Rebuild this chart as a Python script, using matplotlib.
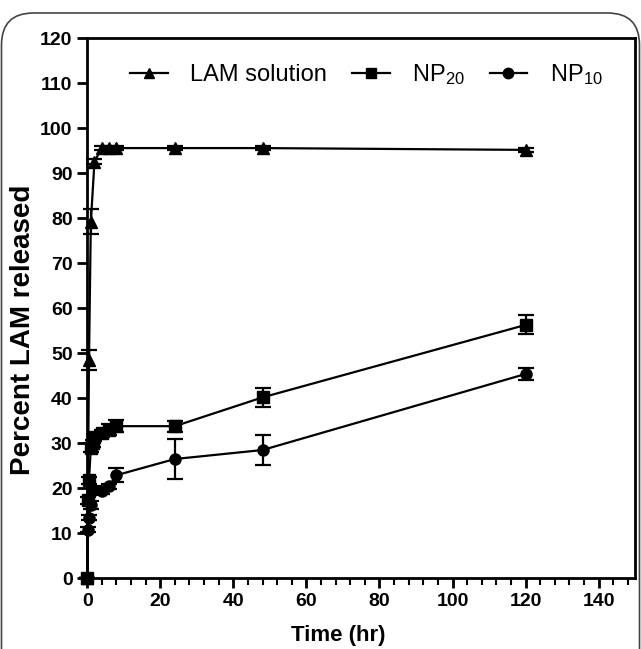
import matplotlib.pyplot as plt
from matplotlib.lines import Line2D
from matplotlib.patches import FancyBboxPatch
from matplotlib.ticker import MultipleLocator

plt.rcParams['font.family'] = ['Liberation Sans', 'DejaVu Sans']
plt.rcParams['mathtext.fontset'] = 'custom'
plt.rcParams['mathtext.rm'] = 'Liberation Sans'
plt.rcParams['mathtext.it'] = 'Liberation Sans'

# LAM solution
lam_t = [0, 0.5, 1, 2, 4, 6, 8, 24, 48, 120]
lam_y = [0, 48.5, 79.2, 92.6, 95.6, 95.6, 95.6, 95.6, 95.6, 95.2]
lam_err = [0, 2.3, 2.8, 0.6, 0.4, 0.4, 0.4, 0.4, 0.4, 0.5]

# NP20
np20_t = [0, 0.25, 0.5, 1, 1.5, 2, 4, 6, 8, 24, 48, 120]
np20_y = [0, 17.3, 21.8, 29.0, 30.0, 31.3, 32.2, 33.0, 33.8, 33.8, 40.2, 56.3]
np20_err = [0, 0.8, 0.8, 1.0, 0.8, 0.8, 0.8, 1.2, 1.4, 1.2, 2.1, 2.1]

# NP10
np10_t = [0, 0.25, 0.5, 1, 2, 4, 6, 8, 24, 48, 120]
np10_y = [0, 10.8, 13.5, 16.3, 19.6, 19.3, 20.4, 22.9, 26.5, 28.5, 45.4]
np10_err = [0, 0.5, 0.6, 0.8, 0.8, 0.6, 0.6, 1.6, 4.5, 3.3, 1.3]

labels = ['LAM solution', 'NP$_{20}$', 'NP$_{10}$']
markers = ['^', 's', 'o']

fig = plt.figure(figsize=(6.41, 6.49), dpi=100)
ax = fig.add_axes([0.136, 0.109, 0.855, 0.832])

kw = dict(color='black', lw=1.6, elinewidth=1.6, capsize=6, capthick=1.6, clip_on=False)
ax.errorbar(lam_t, lam_y, yerr=lam_err, marker='^', ms=9, **kw)
ax.errorbar(np20_t, np20_y, yerr=np20_err, marker='s', ms=8.5, **kw)
ax.errorbar(np10_t, np10_y, yerr=np10_err, marker='o', ms=8, **kw)

ax.set_xlim(0, 150)
ax.set_ylim(0, 120)
ax.xaxis.set_major_locator(MultipleLocator(20))
ax.xaxis.set_minor_locator(MultipleLocator(4))
ax.yaxis.set_major_locator(MultipleLocator(10))

for s in ax.spines.values():
    s.set_linewidth(2)
ax.tick_params(which='major', direction='out', length=7.5, width=2, labelsize=14, pad=3)
ax.tick_params(which='minor', direction='out', length=5, width=1.5)
for lbl in ax.get_xticklabels() + ax.get_yticklabels():
    lbl.set_fontweight('bold')

fig.text(338 / 641, 1 - 635 / 649, 'Time (hr)', fontsize=16, fontweight='bold',
         ha='center', va='center')
fig.text(23 / 641, 1 - 330 / 649, 'Percent LAM released', fontsize=20, fontweight='bold',
         rotation=90, ha='center', va='center')

handles = [Line2D([], [], color='black', lw=1.6, marker=m, ms=7.5) for m in markers]
ax.legend(handles, labels, loc='center left', bbox_to_anchor=(0.078, 0.933), ncol=3,
          frameon=False, fontsize=17, handlelength=1.6, columnspacing=1.05,
          handletextpad=0.95, borderpad=0, borderaxespad=0)

border = FancyBboxPatch((1.5, -40), 638, 676, boxstyle='round,pad=0,rounding_size=32',
                        transform=None, fill=False, edgecolor='#444444', lw=1.2)
fig.patches.append(border)

fig.savefig('out.png', dpi=100)
